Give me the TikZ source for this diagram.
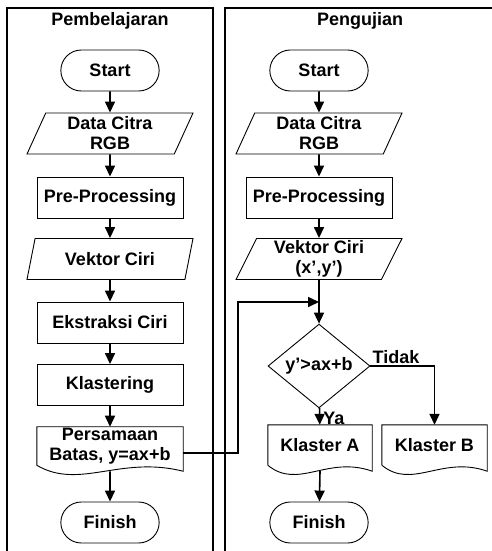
\documentclass[tikz,border=0pt]{standalone}
\usepackage{fontspec}
\setmainfont{Liberation Sans}
\usetikzlibrary{arrows.meta,calc,shapes.geometric,shapes.misc}

% outline of a document symbol (wavy bottom) round a plain node
\newcommand{\docoutline}[1]{%
  \draw[line width=0.9pt] (#1.south west) -- (#1.north west) -- (#1.north east) -- ([yshift=-6pt]#1.south east)
    .. controls ($(#1.south west)!0.57!(#1.south east)+(0,-10)$) and ($(#1.south west)!0.29!(#1.south east)+(0,25)$) .. (#1.south west);}

\begin{document}
\begin{tikzpicture}[x=1pt,y=-1pt,
  font=\fontsize{18}{20}\selectfont\bfseries,
  term/.style={draw,line width=0.9pt,rounded rectangle,minimum width=105pt,minimum height=41pt},
  io/.style={draw,line width=0.9pt,trapezium,trapezium left angle=62,trapezium right angle=118,
    trapezium stretches body,minimum width=166pt,minimum height=41pt,align=center,inner sep=1pt},
  proc/.style={draw,line width=0.9pt,rectangle,minimum width=146pt,minimum height=41pt},
  docu/.style={rectangle,minimum width=146pt,minimum height=38pt,align=center,inner sep=1pt},
  decide/.style={draw,line width=0.9pt,diamond,minimum width=102pt,minimum height=62pt,inner sep=0pt},
  arr/.style={line width=1.6pt,-{Triangle[length=11pt,width=10pt]}},
  lane/.style={line width=1.2pt}]
\useasboundingbox (0,0) rectangle (492,551);

% lanes
\draw[lane] (7,551) -- (7,8) -- (213,8) -- (213,551);
\draw[lane] (225,551) -- (225,8) -- (492,8);
\node (t1) at (110,21) {Pembelajaran};
\node (t2) at (360,21) {Pengujian};

% Pembelajaran
\node[term] (start1) at (110,70.5) {Start};
\node[io] (data1) at (110,133.5) {Data Citra\\RGB};
\node[proc] (pre1) at (110,197.5) {Pre-Processing};
\node[io] (vek1) at (110,259) {Vektor Ciri};
\node[proc] (eks1) at (110,322.5) {Ekstraksi Ciri};
\node[proc] (kla1) at (110,385) {Klastering};
\node[docu] (per1) at (110,446) {Persamaan\\Batas, y=ax+b};
\docoutline{per1}
\node[term] (fin1) at (110,522.5) {Finish};

\draw[arr] (start1) -- (data1);
\draw[arr] (data1) -- (pre1);
\draw[arr] (pre1) -- (vek1);
\draw[arr] (vek1) -- (eks1);
\draw[arr] (eks1) -- (kla1);
\draw[arr] (kla1) -- (per1);
\draw[arr] ([yshift=-6pt]per1.south) -- (fin1);

% Pengujian
\node[term] (start2) at (319,70.5) {Start};
\node[io] (data2) at (319,133.5) {Data Citra\\RGB};
\node[proc] (pre2) at (319,197.5) {Pre-Processing};
\node[io] (vek2) at (319,259) {Vektor Ciri\\(x’,y’)};
\node[decide] (dec) at (319,366) {y’>ax+b};
\node[docu,minimum width=104pt,minimum height=40pt] (klA) at (320,445) {Klaster A};
\docoutline{klA}
\node[docu,minimum width=105pt,minimum height=40pt] (klB) at (434.5,445) {Klaster B};
\docoutline{klB}
\node[term] (fin2) at (319,522.5) {Finish};
\coordinate (mrg) at (319,302);

\draw[arr] (start2) -- (data2);
\draw[arr] (data2) -- (pre2);
\draw[arr] (pre2) -- (vek2);
\draw[arr] (vek2) -- (dec);
\draw[arr] (dec) -- node[pos=0.6,right,inner sep=3pt] {Ya} (klA);
\draw[arr] (dec.east) -| node[pos=0.2,above,inner sep=2pt] {Tidak} (klB);
\draw[arr] ([yshift=-6pt]klA.south) -- (fin2);
\draw[arr] ([yshift=-7pt]per1.east) -- ++(55,0) |- (mrg);
\end{tikzpicture}
\end{document}
